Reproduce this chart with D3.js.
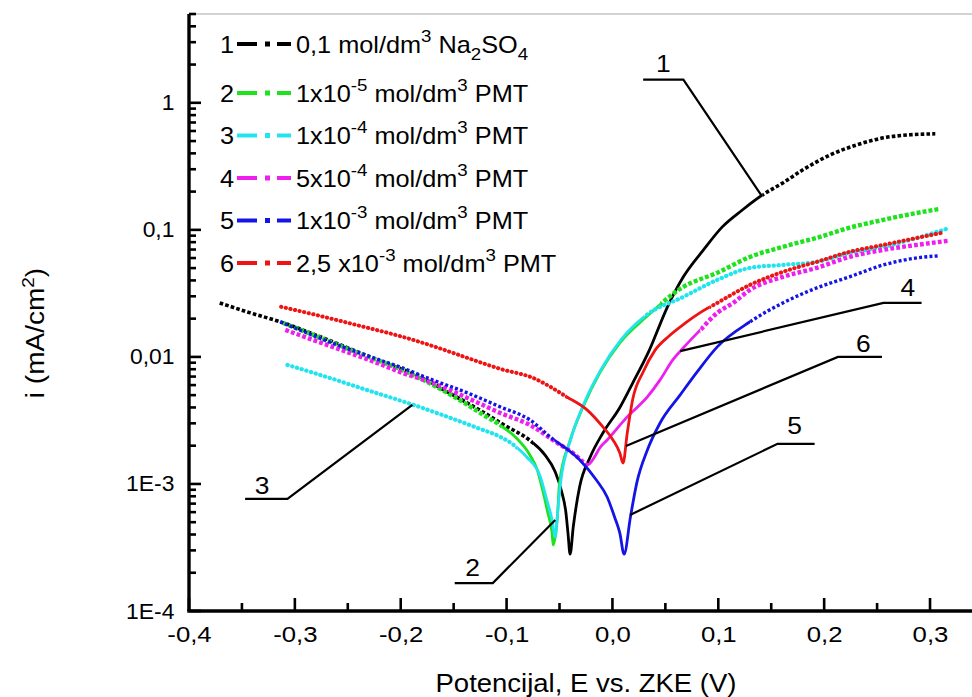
<!DOCTYPE html>
<html><head><meta charset="utf-8">
<script src="https://cdn.jsdelivr.net/npm/d3@7"></script>
<style>
html,body{margin:0;padding:0;background:#fff;}
svg text{font-family:Arial,"Liberation Sans",sans-serif;fill:#000;}
</style></head><body>
<svg id="chart" width="972" height="697"></svg>
<script>
// ---- data (E in V vs. ZKE, i in mA/cm2) ----
const e1 = [-0.371,-0.342,-0.314,-0.276,-0.248,-0.220,-0.182,-0.154,-0.125,-0.102,-0.078,-0.064,-0.054,-0.048,-0.044,-0.042,-0.040,-0.037,-0.031,-0.021,-0.009,0.007,0.019,0.034,0.052,0.067,0.086,0.104,0.123,0.142,0.161,0.180,0.206,0.231,0.256,0.281,0.305];
const i1 = [0.0266,0.0222,0.0189,0.0144,0.0116,0.0093,0.0070,0.0052,0.0038,0.0029,0.0022,0.0017,0.00124,0.00087,0.00060,0.00041,0.00028,0.00046,0.00095,0.00163,0.00252,0.0040,0.0062,0.0109,0.0248,0.0427,0.0696,0.106,0.144,0.189,0.234,0.297,0.390,0.467,0.530,0.560,0.570];
const e2 = [-0.311,-0.248,-0.182,-0.141,-0.122,-0.106,-0.092,-0.078,-0.071,-0.066,-0.061,-0.057,-0.056,-0.052,-0.050,-0.040,-0.028,-0.012,0.007,0.031,0.067,0.099,0.130,0.161,0.193,0.224,0.256,0.288,0.309];
const i2 = [0.0185,0.0114,0.0068,0.0044,0.0035,0.0029,0.00235,0.00169,0.00129,0.00090,0.00059,0.00041,0.00033,0.00055,0.00102,0.0022,0.0040,0.0075,0.0129,0.0203,0.0356,0.0459,0.0613,0.0735,0.0865,0.104,0.120,0.136,0.146];
const e3 = [-0.307,-0.267,-0.238,-0.188,-0.153,-0.125,-0.106,-0.092,-0.081,-0.068,-0.062,-0.057,-0.054,-0.052,-0.049,-0.039,-0.027,-0.011,0.008,0.031,0.067,0.099,0.130,0.161,0.193,0.224,0.256,0.288,0.319];
const i3 = [0.00865,0.00683,0.00570,0.00419,0.00331,0.00271,0.00235,0.00199,0.00163,0.00113,0.00075,0.00052,0.00038,0.00057,0.00102,0.00230,0.00427,0.0079,0.0136,0.0210,0.0297,0.0404,0.0502,0.0530,0.0560,0.0659,0.0735,0.0865,0.104];
const e4 = [-0.309,-0.267,-0.220,-0.201,-0.170,-0.137,-0.106,-0.078,-0.052,-0.035,-0.028,-0.023,-0.018,-0.012,-0.005,0.014,0.033,0.045,0.057,0.067,0.083,0.099,0.114,0.130,0.161,0.193,0.224,0.256,0.288,0.317];
const i4 = [0.0163,0.0122,0.00881,0.00762,0.00624,0.00475,0.00362,0.00291,0.0021,0.00169,0.00150,0.00142,0.00158,0.00192,0.00222,0.00337,0.00484,0.00659,0.00947,0.0118,0.0163,0.0222,0.0266,0.0337,0.0427,0.0502,0.0613,0.0696,0.0762,0.0819];
const e5 = [-0.314,-0.267,-0.220,-0.201,-0.170,-0.137,-0.106,-0.078,-0.059,-0.031,-0.015,-0.005,0.002,0.007,0.011,0.017,0.023,0.033,0.045,0.064,0.080,0.099,0.130,0.161,0.193,0.224,0.256,0.288,0.308];
const i5 = [0.0189,0.0131,0.00947,0.00834,0.00659,0.00521,0.00404,0.00319,0.00235,0.00155,0.00107,0.00079,0.00055,0.00041,0.00028,0.00055,0.00102,0.00185,0.00302,0.00502,0.00762,0.0120,0.0189,0.0266,0.0349,0.0427,0.0530,0.0602,0.0624];
const e6 = [-0.313,-0.276,-0.238,-0.201,-0.170,-0.137,-0.106,-0.075,-0.043,-0.024,-0.009,0.0005,0.007,0.010,0.014,0.019,0.029,0.040,0.0535,0.069,0.084,0.099,0.130,0.161,0.193,0.224,0.256,0.288,0.311];
const i6 = [0.0248,0.0210,0.0175,0.0146,0.0122,0.00982,0.00805,0.00683,0.00484,0.00383,0.00281,0.00222,0.00175,0.00146,0.00252,0.00458,0.00760,0.0112,0.0146,0.0185,0.0226,0.0266,0.0369,0.0467,0.0560,0.0671,0.0762,0.0865,0.0947];

const seriesNumbers = ["1","2","3","4","5","6"];
const legendLabels = [
  [["0,1 mol/dm",""],["3","sup"],[" Na",""],["2","sub"],["SO",""],["4","sub"]],
  [["1x10",""],["-5","sup"],[" mol/dm",""],["3","sup"],[" PMT",""]],
  [["1x10",""],["-4","sup"],[" mol/dm",""],["3","sup"],[" PMT",""]],
  [["5x10",""],["-4","sup"],[" mol/dm",""],["3","sup"],[" PMT",""]],
  [["1x10",""],["-3","sup"],[" mol/dm",""],["3","sup"],[" PMT",""]],
  [["2,5 x10",""],["-3","sup"],[" mol/dm",""],["3","sup"],[" PMT",""]]
];
const xTicks = [-0.4,-0.3,-0.2,-0.1,0.0,0.1,0.2,0.3];
const xMinorTicks = [-0.35,-0.25,-0.15,-0.05,0.05,0.15,0.25];
const yTicks = [1e-4,1e-3,1e-2,0.1,1];
const yTickLabels = ["1E-4","1E-3","0,01","0,1","1"];
// annotation numbers: label position and leader polyline, in data units (E, i)
const annoLabels = ["1","2","3","4","5","6"];
const annoText = [[0.048,2.07],[-0.132,0.000222],[-0.331,0.00098],[0.279,0.0356],[0.172,0.00291],[0.237,0.0129]];
const annoPath = [
  [[0.029,1.52],[0.067,1.52],[0.141,0.185]],
  [[-0.149,0.000166],[-0.113,0.000166],[-0.054,0.000521]],
  [[-0.347,0.000762],[-0.307,0.000762],[-0.189,0.00419]],
  [[0.292,0.0266],[0.256,0.0266],[0.064,0.0111]],
  [[0.191,0.00207],[0.156,0.00207],[0.0166,0.00057]],
  [[0.2546,0.0100],[0.213,0.0100],[0.0128,0.00199]]
];

// ---- styles ----
const colors = ["#000000","#1ee21e","#22e4ee","#ee1eee","#1414e6","#ee1414"];
const denseRange = [[-0.075,0.142],[-0.105,0.045],[-0.09,0.03],[-0.024,0.083],[-0.055,0.13],[-0.043,0.092]];
const dotStyle = [
  {w:3.6,dash:"3.6,2.2",cap:"butt"},
  {w:4.4,dash:"4,2",cap:"butt"},
  {w:4.2,dash:"0.3,4.6",cap:"round"},
  {w:4.4,dash:"3.8,2.2",cap:"butt"},
  {w:3.4,dash:"3,2.2",cap:"butt"},
  {w:4.0,dash:"0.3,4.4",cap:"round"}
];

const W = 972, H = 697;
const mLeft = 189, mTop = 14, mBottom = 611;
const x = d3.scaleLinear().domain([-0.4,0.34]).range([mLeft, mLeft + 0.74*1058.6]);
const y = d3.scaleLog().domain([1e-4,5]).range([mBottom, mTop]);

const svg = d3.select("#chart");
const defs = svg.append("defs");

const series = [[e1,i1],[e2,i2],[e3,i3],[e4,i4],[e5,i5],[e6,i6]].map((s,k)=>({
  pts: s[0].map((e,j)=>[e, s[1][j]]), color: colors[k], dense: denseRange[k], dot: dotStyle[k]
}));

// top frame line (light)
svg.append("line").attr("x1",x(-0.4)).attr("x2",W).attr("y1",y(5)).attr("y2",y(5))
  .attr("stroke","#c4c4c4").attr("stroke-width",1.5);

// clip paths
series.forEach((s,k)=>{
  const x0 = x(s.dense[0]), x1 = x(s.dense[1]);
  defs.append("clipPath").attr("id","dense"+k).append("rect")
    .attr("x",x0).attr("y",0).attr("width",x1-x0).attr("height",H);
  const cp = defs.append("clipPath").attr("id","sparse"+k);
  cp.append("rect").attr("x",0).attr("y",0).attr("width",x0).attr("height",H);
  cp.append("rect").attr("x",x1).attr("y",0).attr("width",W-x1).attr("height",H);
});

const line = d3.line().x(d=>x(d[0])).y(d=>y(d[1])).curve(d3.curveMonotoneX);

const gCurves = svg.append("g");
series.forEach((s,k)=>{
  const g = gCurves.append("g");
  g.append("path").attr("d",line(s.pts)).attr("fill","none")
    .attr("stroke",s.color).attr("stroke-width",s.dot.w)
    .attr("stroke-dasharray",s.dot.dash).attr("stroke-linecap",s.dot.cap)
    .attr("clip-path","url(#sparse"+k+")");
  g.append("path").attr("d",line(s.pts)).attr("fill","none")
    .attr("stroke",s.color).attr("stroke-width",2.8).attr("stroke-linejoin","round")
    .attr("clip-path","url(#dense"+k+")");
});

// annotations
const annoLine = d3.line().x(d=>x(d[0])).y(d=>y(d[1]));
annoLabels.forEach((lab,k)=>{
  svg.append("path").attr("d",annoLine(annoPath[k])).attr("fill","none")
    .attr("stroke","#000").attr("stroke-width",2.2);
  svg.append("text").attr("transform",`translate(${x(annoText[k][0])},${y(annoText[k][1])+9}) scale(1.1,1)`)
    .attr("text-anchor","middle").attr("font-size",24).text(lab);
});

// axes: labels via d3 axes, tick marks and spines drawn from the same scales
const fmt = d => d3.format(".1f")(d).replace("\u2212","-").replace(".",",");
const xAxis = svg.append("g").attr("transform",`translate(0,${mBottom})`)
  .call(d3.axisBottom(x).tickValues(xTicks).tickFormat(fmt).tickSize(0).tickPadding(15));
const yAxis = svg.append("g").attr("transform",`translate(${mLeft},0)`)
  .call(d3.axisLeft(y).tickValues(yTicks).tickFormat((d,j)=>yTickLabels[j]).tickSize(0).tickPadding(14));
[xAxis,yAxis].forEach(g=>{
  g.selectAll("path.domain").remove();
  g.selectAll("text").attr("font-family","Arial, 'Liberation Sans', sans-serif").attr("fill","#000");
});
xAxis.selectAll("text").attr("font-size",23).attr("transform","scale(1.12,1)");
yAxis.selectAll("text").attr("font-size",22).attr("transform","scale(1.04,1)");

const minorY = [];
[1e-4,1e-3,1e-2,0.1,1].forEach(dec=>{ for(let m=2;m<=9;m++){ const v=m*dec; if(v<=5.0001) minorY.push(v);} });

const gTicks = svg.append("g").attr("stroke","#000").attr("stroke-width",2.6);
gTicks.selectAll("line.xmaj").data(xTicks).join("line").attr("class","xmaj")
  .attr("x1",d=>x(d)).attr("x2",d=>x(d)).attr("y1",mBottom).attr("y2",mBottom-13);
gTicks.selectAll("line.xmin").data(xMinorTicks).join("line").attr("class","xmin")
  .attr("x1",d=>x(d)).attr("x2",d=>x(d)).attr("y1",mBottom).attr("y2",mBottom-8);
gTicks.selectAll("line.ymaj").data(yTicks).join("line").attr("class","ymaj")
  .attr("x1",mLeft).attr("x2",mLeft+12).attr("y1",d=>y(d)).attr("y2",d=>y(d));
gTicks.selectAll("line.ymin").data(minorY).join("line").attr("class","ymin")
  .attr("x1",mLeft).attr("x2",mLeft+7).attr("y1",d=>y(d)).attr("y2",d=>y(d));
// spines
svg.append("line").attr("x1",x.range()[0]-1.7).attr("x2",W).attr("y1",mBottom).attr("y2",mBottom)
  .attr("stroke","#000").attr("stroke-width",3.4);
svg.append("line").attr("x1",mLeft).attr("x2",mLeft).attr("y1",y.range()[0]).attr("y2",y.range()[1])
  .attr("stroke","#000").attr("stroke-width",3.4);

// axis titles
svg.append("text").attr("transform","translate(586,692) scale(1.1,1)").attr("text-anchor","middle").attr("font-size",25)
  .text("Potencijal, E vs. ZKE (V)");
const yt = svg.append("text").attr("transform","translate(44,333) rotate(-90) scale(1.12,1)")
  .attr("text-anchor","middle").attr("font-size",25);
yt.append("tspan").text("i (mA/cm");
yt.append("tspan").attr("dy",-10).attr("font-size",17).text("2");
yt.append("tspan").attr("dy",10).text(")");

// legend
const legY = k => k===0 ? 44 : 93 + (k-1)*42.5;
series.forEach((s,k)=>{
  const cy = legY(k);
  const g = svg.append("g");
  g.append("text").attr("transform",`translate(227,${cy+8.5}) scale(1.1,1)`).attr("text-anchor","middle").attr("font-size",23).text(seriesNumbers[k]);
  g.append("line").attr("x1",237).attr("x2",257).attr("y1",cy).attr("y2",cy).attr("stroke",s.color).attr("stroke-width",4);
  g.append("line").attr("x1",277).attr("x2",291).attr("y1",cy).attr("y2",cy).attr("stroke",s.color).attr("stroke-width",4);
  g.append("rect").attr("x",265).attr("y",cy-2.5).attr("width",5).attr("height",5).attr("fill",s.color);
  const t = g.append("text").attr("transform",`translate(296,${cy+8.5}) scale(1.1,1)`).attr("font-size",23);
  let shift = 0;
  legendLabels[k].forEach(([txt,kind])=>{
    const target = kind==="sup" ? -11 : kind==="sub" ? 7 : 0;
    const ts = t.append("tspan").attr("dy",target-shift).text(txt);
    if(kind) ts.attr("font-size",17);
    shift = target;
  });
});
</script>
</body></html>
